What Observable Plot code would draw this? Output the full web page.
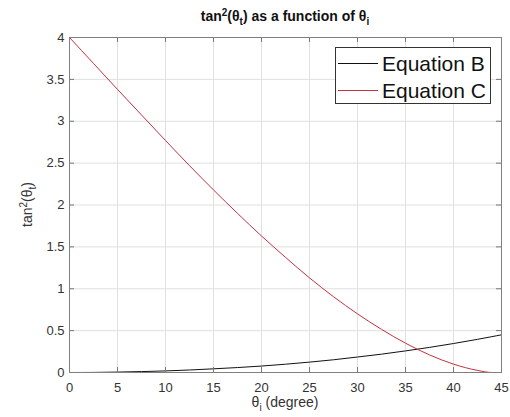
<!DOCTYPE html>
<html>
<head>
<meta charset="utf-8">
<script src="https://cdn.jsdelivr.net/npm/d3@7"></script>
<script src="https://cdn.jsdelivr.net/npm/@observablehq/plot@0.6"></script>
<style>
  html, body { margin: 0; padding: 0; background: #fff; }
  #chart { width: 510px; height: 417px; }
</style>
</head>
<body>
<div id="chart"></div>
<script>
// ---- data ----
const theta = [0, 2.5, 5, 7.5, 10, 12.5, 15, 17.5, 20, 22.5, 25, 27.5, 30, 32.5, 35, 37.5, 40, 42.5, 44, 45];
const eqB   = [0, 0.001, 0.005, 0.011, 0.019, 0.030, 0.044, 0.059, 0.077, 0.099, 0.124, 0.152, 0.185, 0.219, 0.258, 0.300, 0.346, 0.396, 0.428, 0.450];
const eqC   = [4.00, 3.69, 3.38, 3.075, 2.77, 2.47, 2.18, 1.90, 1.63, 1.375, 1.13, 0.905, 0.70, 0.515, 0.35, 0.21, 0.10, 0.025, 0.0, 0.0];
const xTicks = [0, 5, 10, 15, 20, 25, 30, 35, 40, 45];
const yTicks = [0, 0.5, 1, 1.5, 2, 2.5, 3, 3.5, 4];
const seriesNames = ["Equation B", "Equation C"];
const seriesColors = ["#111111", "#c4303f"];

const rows = [];
theta.forEach((t, i) => {
  rows.push({theta: t, value: eqB[i], series: seriesNames[0]});
  rows.push({theta: t, value: eqC[i], series: seriesNames[1]});
});

const W = 510, H = 417;
const mL = 69, mR = 9, mT = 37, mB = 45;
const plotW = W - mL - mR, plotH = H - mT - mB;
const font = "'Liberation Sans', Arial, Helvetica, sans-serif";

const chart = Plot.plot({
  width: W,
  height: H,
  marginLeft: mL,
  marginRight: mR,
  marginTop: mT,
  marginBottom: mB,
  style: {fontFamily: font, fontSize: "13px", color: "#333", background: "#fff"},
  x: {domain: [0, 45], ticks: xTicks, label: null},
  y: {domain: [0, 4], ticks: yTicks, label: null},
  color: {domain: seriesNames, range: seriesColors},
  marks: [
    Plot.gridX(xTicks, {stroke: "#e0e0e0", strokeOpacity: 1}),
    Plot.gridY(yTicks, {stroke: "#e0e0e0", strokeOpacity: 1}),
    Plot.lineY(rows, {x: "theta", y: "value", z: "series", stroke: "series", strokeWidth: 1, curve: "monotone-x"}),
    // inward ticks on all four sides (MATLAB box style)
    Plot.ruleX(xTicks, {x: d => d, insetTop: plotH - 5, stroke: "#777"}),
    Plot.ruleX(xTicks, {x: d => d, insetBottom: plotH - 5, stroke: "#777"}),
    Plot.ruleY(yTicks, {y: d => d, insetRight: plotW - 5, stroke: "#777"}),
    Plot.ruleY(yTicks, {y: d => d, insetLeft: plotW - 5, stroke: "#777"}),
    Plot.frame({stroke: "#808080"}),
    Plot.axisX(xTicks, {tickSize: 0, tickPadding: 10, label: null, fill: "#333"}),
    Plot.axisY(yTicks, {tickSize: 0, tickPadding: 5, label: null, fill: "#333", tickFormat: d => String(d)})
  ]
});

document.getElementById("chart").appendChild(chart);

const svg = d3.select(chart);

// Title
const title = svg.append("text")
  .attr("x", mL + plotW / 2).attr("y", 21)
  .attr("text-anchor", "middle")
  .attr("font-family", font).attr("font-size", 14).attr("font-weight", "bold")
  .attr("fill", "#111");
title.append("tspan").text("tan");
title.append("tspan").attr("font-size", 10).attr("dy", -5).text("2");
title.append("tspan").attr("dy", 5).text("(θ");
title.append("tspan").attr("font-size", 10).attr("dy", 4).text("t");
title.append("tspan").attr("dy", -4).text(") as a function of θ");
title.append("tspan").attr("font-size", 10).attr("dy", 4).text("i");

// X label
const xl = svg.append("text")
  .attr("x", mL + plotW / 2).attr("y", 407)
  .attr("text-anchor", "middle")
  .attr("font-family", font).attr("font-size", 14).attr("fill", "#333");
xl.append("tspan").text("θ");
xl.append("tspan").attr("font-size", 10).attr("dy", 4).text("i");
xl.append("tspan").attr("dy", -4).text(" (degree)");

// Y label
const yl = svg.append("text")
  .attr("transform", `translate(32,${mT + plotH / 2}) rotate(-90)`)
  .attr("text-anchor", "middle")
  .attr("font-family", font).attr("font-size", 14).attr("fill", "#333");
yl.append("tspan").text("tan");
yl.append("tspan").attr("font-size", 10).attr("dy", -5).text("2");
yl.append("tspan").attr("dy", 5).text("(θ");
yl.append("tspan").attr("font-size", 10).attr("dy", 4).text("t");
yl.append("tspan").attr("dy", -4).text(")");

// Legend
const lg = svg.append("g");
lg.append("rect")
  .attr("x", 335.5).attr("y", 47.5).attr("width", 155).attr("height", 56)
  .attr("fill", "#fff").attr("stroke", "#333").attr("stroke-width", 1);
seriesNames.forEach((name, i) => {
  const cy = 63.5 + i * 27;
  lg.append("line")
    .attr("x1", 338).attr("x2", 378).attr("y1", cy).attr("y2", cy)
    .attr("stroke", seriesColors[i]).attr("stroke-width", 1);
  lg.append("text")
    .attr("x", 382).attr("y", cy + 7.5)
    .attr("text-anchor", "start")
    .attr("font-family", font).attr("font-size", 21).attr("fill", "#111")
    .text(name);
});
</script>
</body>
</html>
